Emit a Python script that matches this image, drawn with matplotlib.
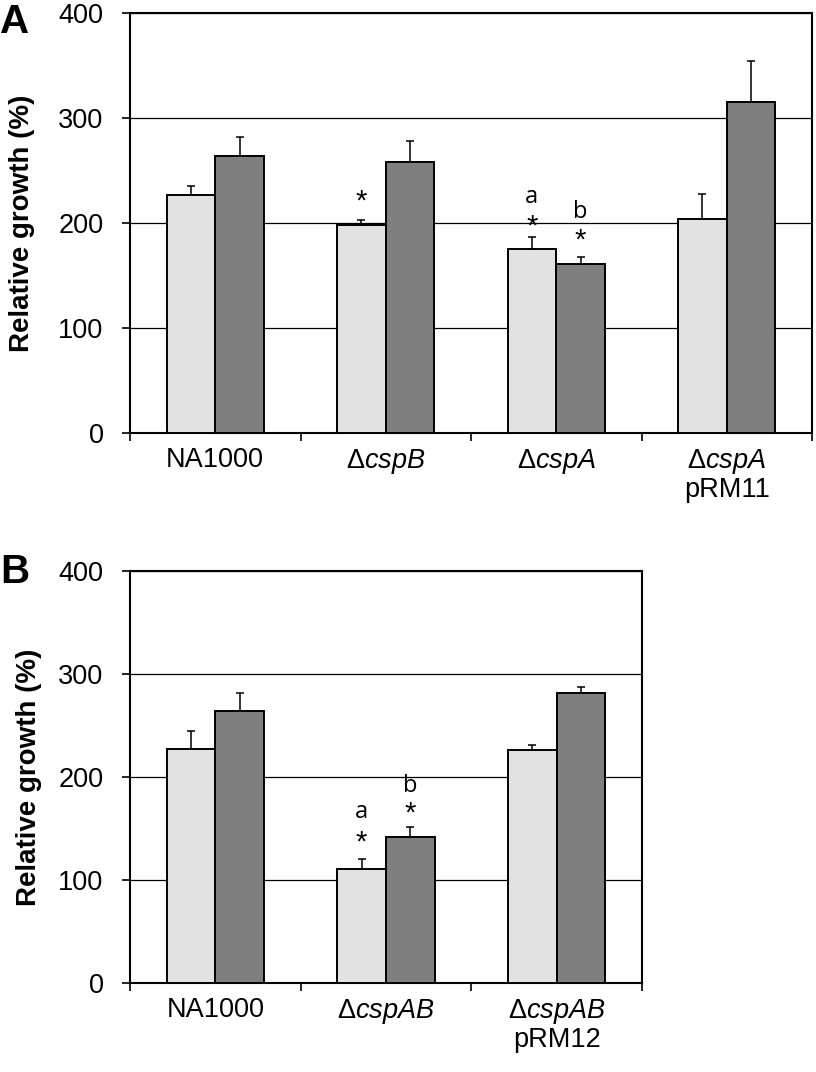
import matplotlib
matplotlib.use("Agg")
import matplotlib.pyplot as plt
import numpy as np

plt.rcParams["font.family"] = ["Liberation Sans", "DejaVu Sans"]
plt.rcParams["mathtext.fontset"] = "custom"
plt.rcParams["mathtext.rm"] = "Liberation Sans"
plt.rcParams["mathtext.it"] = "Liberation Sans:italic"

# Panel A data
strains_a = ["NA1000", r"$\mathrm{\Delta}\mathit{cspB}$", r"$\mathrm{\Delta}\mathit{cspA}$",
             "$\\mathrm{\\Delta}\\mathit{cspA}$\npRM11"]
light_a = [227, 198, 175, 204]
light_err_a = [8, 5, 12, 24]
dark_a = [264, 258, 161, 315]
dark_err_a = [18, 20, 7, 39]

# Panel B data
strains_b = ["NA1000", r"$\mathrm{\Delta}\mathit{cspAB}$", "$\\mathrm{\\Delta}\\mathit{cspAB}$\npRM12"]
light_b = [227, 111, 226]
light_err_b = [18, 9, 5]
dark_b = [264, 142, 282]
dark_err_b = [18, 9, 5]

# significance marks: (group, series 0=light 1=dark, text, y centre)
marks_a = [(1, 0, "*", 229), (2, 0, "*", 205), (2, 0, "a", 225),
           (2, 1, "*", 192), (2, 1, "b", 213)]
marks_b = [(1, 0, "*", 145), (1, 0, "a", 166), (1, 1, "*", 173), (1, 1, "b", 194)]

LIGHT = "#e2e2e2"
DARK = "#7f7f7f"
W = 1 / 3.5
FS = 19.5

fig = plt.figure(figsize=(8.16, 10.72), dpi=100)
ax_a = fig.add_axes([130 / 816, 1 - 433 / 1072, 682 / 816, 420 / 1072])
ax_b = fig.add_axes([130 / 816, 1 - 983 / 1072, 512 / 816, 412 / 1072])


def draw(ax, names, light, light_err, dark, dark_err, marks, ylab_x):
    n = len(names)
    x = np.arange(n) + 0.5
    err_kw = dict(ecolor="black", elinewidth=1.1, capsize=3, capthick=1.1)
    ax.bar(x - W / 2, light, W, color=LIGHT, edgecolor="black", linewidth=1.4,
           yerr=[np.zeros(n), light_err], error_kw=err_kw, zorder=3)
    ax.bar(x + W / 2, dark, W, color=DARK, edgecolor="black", linewidth=1.4,
           yerr=[np.zeros(n), dark_err], error_kw=err_kw, zorder=3)

    ax.set_xlim(0, n)
    ax.set_ylim(0, 400)
    ax.set_yticks([0, 100, 200, 300, 400])
    ax.set_xticks(np.arange(n + 1))
    ax.set_xticklabels([])
    ax.set_xticks(x, names, minor=True)
    ax.tick_params(axis="x", which="major", direction="out", length=5.5, width=1.2)
    ax.tick_params(axis="x", which="minor", length=0, pad=10, labelsize=FS)
    ax.tick_params(axis="y", direction="out", length=6, width=1.2, pad=13, labelsize=FS)
    for lbl in ax.get_xticklabels(minor=True):
        lbl.set_linespacing(1.05)

    ax.grid(axis="y", color="black", linewidth=0.9)
    ax.set_axisbelow(True)
    for sp in ax.spines.values():
        sp.set_linewidth(1.5)

    ax.set_ylabel("Relative growth (%)", fontsize=20, fontweight="bold")
    ax.yaxis.set_label_coords(ylab_x, 0.5)

    for g, s, txt, yc in marks:
        xc = x[g] - W / 2 if s == 0 else x[g] + W / 2
        if txt == "*":
            ax.annotate(txt, xy=(xc, yc), xytext=(0, -12), textcoords="offset points",
                        ha="center", va="baseline", fontsize=21)
        else:
            ax.annotate(txt, xy=(xc, yc), xytext=(0, -4.5 if txt == "a" else -6),
                        textcoords="offset points", ha="center", va="baseline",
                        fontsize=17, family=["Open Sans", "DejaVu Sans"])


draw(ax_a, strains_a, light_a, light_err_a, dark_a, dark_err_a, marks_a, -0.139)
draw(ax_b, strains_b, light_b, light_err_b, dark_b, dark_err_b, marks_b, -0.172)

fig.text(0, 1 - 33 / 1072, "A", fontsize=29, fontweight="bold", va="baseline")
fig.text(0, 1 - 583 / 1072, "B", fontsize=29, fontweight="bold", va="baseline")

fig.savefig("out.png", dpi=100, facecolor="white")
